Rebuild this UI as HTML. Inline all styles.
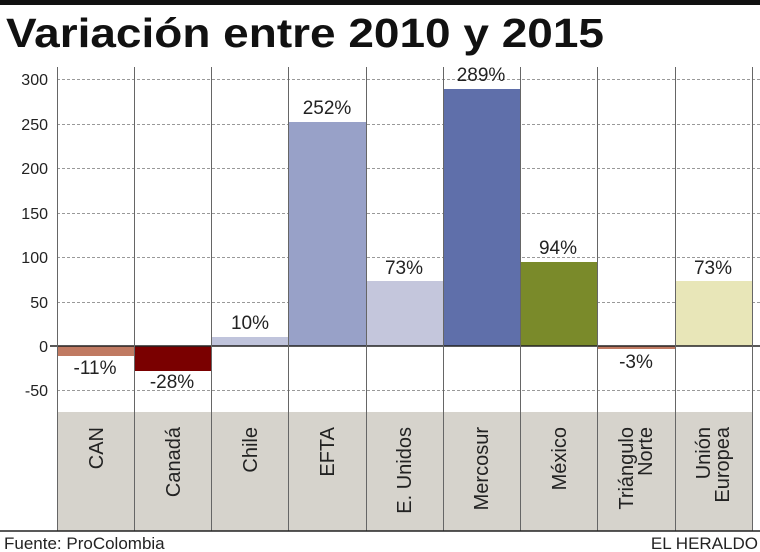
<!DOCTYPE html>
<html><head><meta charset="utf-8"><style>
body{margin:0;background:#fff;}
svg{display:block;font-family:"Liberation Sans",sans-serif;}
</style></head><body>
<svg width="760" height="552" viewBox="0 0 760 552">
<rect x="0" y="0" width="760" height="5" fill="#111"/>
<text x="6" y="47" font-size="41" font-weight="bold" fill="#111" textLength="598" lengthAdjust="spacingAndGlyphs">Variación entre 2010 y 2015</text>
<rect x="57" y="412" width="695" height="119" fill="#d6d3cc"/>
<g stroke="#999" stroke-dasharray="3,2" stroke-width="1">
<line x1="57" y1="79.5" x2="760" y2="79.5"/>
<line x1="57" y1="124.5" x2="760" y2="124.5"/>
<line x1="57" y1="168.5" x2="760" y2="168.5"/>
<line x1="57" y1="213.5" x2="760" y2="213.5"/>
<line x1="57" y1="257.5" x2="760" y2="257.5"/>
<line x1="57" y1="302.5" x2="760" y2="302.5"/>
<line x1="57" y1="390.5" x2="760" y2="390.5"/>
</g>
<g font-size="16" fill="#222" text-anchor="end">
<text x="48" y="85">300</text><text x="48" y="130">250</text><text x="48" y="174">200</text>
<text x="48" y="219">150</text><text x="48" y="263">100</text><text x="48" y="308">50</text>
<text x="48" y="352">0</text><text x="48" y="396">-50</text>
</g>
<rect x="57" y="346" width="77" height="10" fill="#c07a62"/>
<rect x="134" y="346" width="77" height="25" fill="#7a0000"/>
<rect x="211" y="337" width="77" height="9" fill="#c0c4dc"/>
<rect x="288" y="122" width="78" height="224" fill="#98a1c8"/>
<rect x="366" y="281" width="77" height="65" fill="#c4c6dc"/>
<rect x="443" y="89" width="77" height="257" fill="#5f6faa"/>
<rect x="520" y="262" width="77" height="84" fill="#7a8a2a"/>
<rect x="597" y="346" width="78" height="3" fill="#c07a62"/>
<rect x="675" y="281" width="77" height="65" fill="#e8e6b8"/>
<line x1="50" y1="346" x2="760" y2="346" stroke="#222" stroke-width="1.5"/>
<g stroke="#666" stroke-width="1">
<line x1="57.5" y1="67" x2="57.5" y2="531"/><line x1="134.5" y1="67" x2="134.5" y2="531"/>
<line x1="211.5" y1="67" x2="211.5" y2="531"/><line x1="288.5" y1="67" x2="288.5" y2="531"/>
<line x1="366.5" y1="67" x2="366.5" y2="531"/><line x1="443.5" y1="67" x2="443.5" y2="531"/>
<line x1="520.5" y1="67" x2="520.5" y2="531"/><line x1="597.5" y1="67" x2="597.5" y2="531"/>
<line x1="675.5" y1="67" x2="675.5" y2="531"/><line x1="752.5" y1="67" x2="752.5" y2="531"/>
</g>
<line x1="0" y1="531" x2="760" y2="531" stroke="#222" stroke-width="1.5"/>
<g font-size="19" fill="#222" text-anchor="middle">
<text x="95" y="374">-11%</text><text x="172" y="388">-28%</text><text x="250" y="329">10%</text>
<text x="327" y="114">252%</text><text x="404" y="274">73%</text><text x="481" y="81">289%</text>
<text x="558" y="254">94%</text><text x="636" y="368">-3%</text><text x="713" y="274">73%</text>
</g>
<g font-size="20" fill="#222" text-anchor="end">
<text transform="translate(103,427) rotate(-90)">CAN</text>
<text transform="translate(180,427) rotate(-90)">Canadá</text>
<text transform="translate(257,427) rotate(-90)">Chile</text>
<text transform="translate(334,427) rotate(-90)">EFTA</text>
<text transform="translate(411,427) rotate(-90)">E. Unidos</text>
<text transform="translate(488,427) rotate(-90)">Mercosur</text>
<text transform="translate(566,427) rotate(-90)">México</text>
<text transform="translate(633,427) rotate(-90)">Triángulo</text>
<text transform="translate(652,427) rotate(-90)">Norte</text>
<text transform="translate(710,427) rotate(-90)">Unión</text>
<text transform="translate(729,427) rotate(-90)">Europea</text>
</g>
<text x="4" y="549" font-size="17" fill="#222">Fuente: ProColombia</text>
<text x="758" y="549" font-size="17" fill="#222" text-anchor="end">EL HERALDO</text>
</svg>
</body></html>
